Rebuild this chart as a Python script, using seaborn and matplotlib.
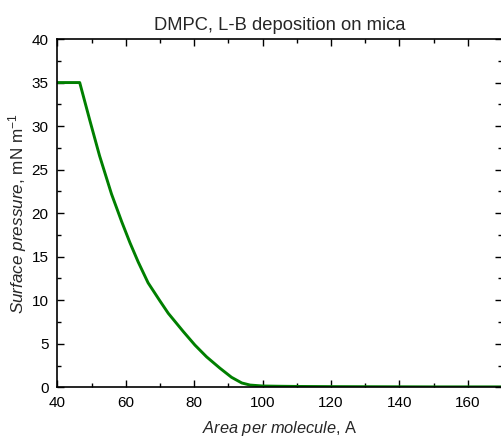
import matplotlib
matplotlib.use("Agg")
import matplotlib.pyplot as plt
from matplotlib.ticker import MultipleLocator
import seaborn as sns
import pandas as pd

area = [40, 44, 46.5, 49.5, 52.3, 55.8, 58.8, 61.2, 63.6, 66.5, 70.0, 72.4,
        76.8, 80.2, 83.6, 87.5, 90.9, 93.9, 96.3, 100, 105, 110, 120, 130, 140, 150, 160, 170]
pressure = [35.0, 35.0, 35.0, 30.6, 26.6, 22.2, 19.0, 16.6, 14.4, 12.0, 9.9, 8.5,
            6.4, 4.85, 3.5, 2.2, 1.15, 0.5, 0.26, 0.15, 0.12, 0.1, 0.08, 0.07, 0.06, 0.05, 0.05, 0.05]

title = "DMPC, L-B deposition on mica"
xlabel = r"$\it{Area\ per\ molecule}$, A"
ylabel = r"$\it{Surface\ pressure}$, mN m$^{-1}$"

sns.set_style("ticks")
plt.rcParams["font.family"] = ["Liberation Sans", "DejaVu Sans"]
plt.rcParams["mathtext.fontset"] = "custom"
plt.rcParams["mathtext.rm"] = "Liberation Sans"
plt.rcParams["mathtext.it"] = "Liberation Sans:italic"
plt.rcParams["mathtext.bf"] = "Liberation Sans:bold"

df = pd.DataFrame({"area": area, "pressure": pressure})

fig = plt.figure(figsize=(5.02, 4.37), dpi=100)
ax = fig.add_axes([0.1145, 0.1137, 0.8855, 0.797])
sns.lineplot(data=df, x="area", y="pressure", ax=ax, color="#007f00", linewidth=2.1)

ax.set_xlim(40, 170)
ax.set_ylim(0, 40)
ax.xaxis.set_major_locator(MultipleLocator(20))
ax.xaxis.set_minor_locator(MultipleLocator(10))
ax.yaxis.set_major_locator(MultipleLocator(5))
ax.yaxis.set_minor_locator(MultipleLocator(2.5))
ax.tick_params(which="both", direction="in", top=True, right=True, labelsize=11,
               colors="black", pad=6.5)
ax.tick_params(which="major", length=5, width=1)
ax.tick_params(which="minor", length=3, width=1)
for s in ax.spines.values():
    s.set_linewidth(1.2)
    s.set_color("black")

ax.set_title(title, fontsize=13.2, pad=6.5)
ax.set_xlabel(xlabel, fontsize=11.8, labelpad=6)
ax.set_ylabel(ylabel, fontsize=12.3, labelpad=1.5)

fig.savefig("out.png", dpi=100)
